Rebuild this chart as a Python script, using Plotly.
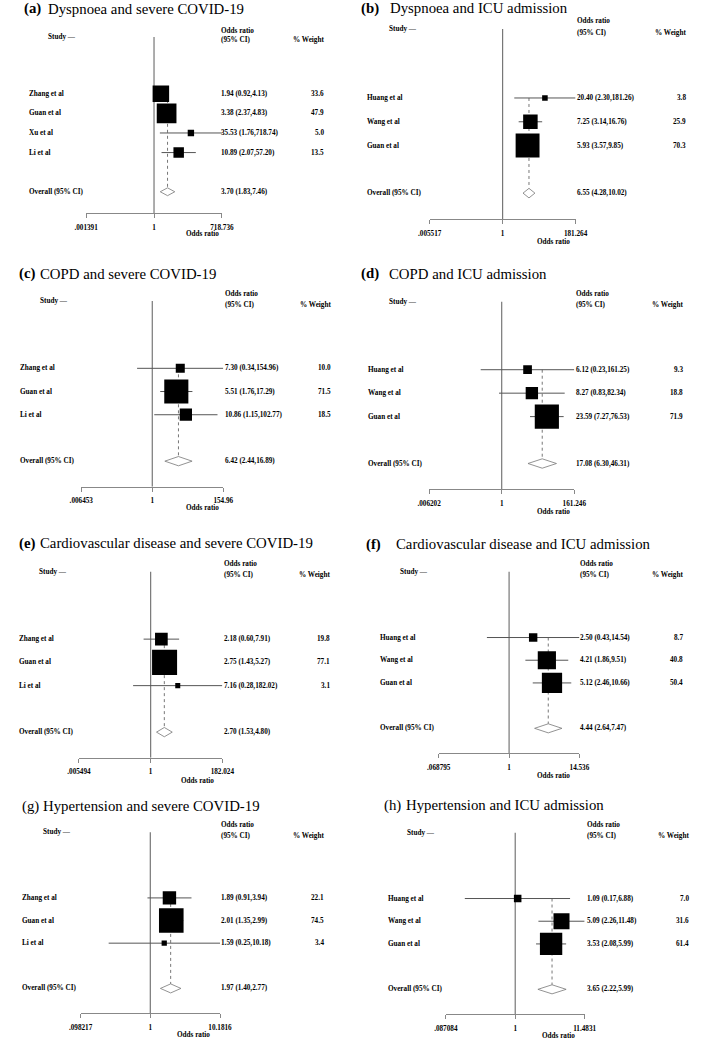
import math
import plotly.graph_objects as go

# ---------------- data ----------------
letters = ["(a)", "(b)", "(c)", "(d)", "(e)", "(f)", "(g)", "(h)"]
titles = [
    "Dyspnoea and severe COVID-19",
    "Dyspnoea and ICU admission",
    "COPD and severe COVID-19",
    "COPD and ICU admission",
    "Cardiovascular disease and severe COVID-19",
    "Cardiovascular disease and ICU admission",
    "Hypertension and severe COVID-19",
    "Hypertension and ICU admission",
]

studies_a = ["Zhang et al", "Guan et al", "Xu et al", "Li et al"]
or_a = [1.94, 3.38, 35.53, 10.89]
lo_a = [0.92, 2.37, 1.76, 2.07]
hi_a = [4.13, 4.83, 718.74, 57.20]
wt_a = [33.6, 47.9, 5.0, 13.5]
overall_a = [3.70, 1.83, 7.46]
axis_a = [0.001391, 718.736]
ticks_a = [".001391", "1", "718.736"]

studies_b = ["Huang et al", "Wang et al", "Guan et al"]
or_b = [20.40, 7.25, 5.93]
lo_b = [2.30, 3.14, 3.57]
hi_b = [181.26, 16.76, 9.85]
wt_b = [3.8, 25.9, 70.3]
overall_b = [6.55, 4.28, 10.02]
axis_b = [0.005517, 181.264]
ticks_b = [".005517", "1", "181.264"]

studies_c = ["Zhang et al", "Guan et al", "Li et al"]
or_c = [7.30, 5.51, 10.86]
lo_c = [0.34, 1.76, 1.15]
hi_c = [154.96, 17.29, 102.77]
wt_c = [10.0, 71.5, 18.5]
overall_c = [6.42, 2.44, 16.89]
axis_c = [0.006453, 154.96]
ticks_c = [".006453", "1", "154.96"]

studies_d = ["Huang et al", "Wang et al", "Guan et al"]
or_d = [6.12, 8.27, 23.59]
lo_d = [0.23, 0.83, 7.27]
hi_d = [161.25, 82.34, 76.53]
wt_d = [9.3, 18.8, 71.9]
overall_d = [17.08, 6.30, 46.31]
axis_d = [0.006202, 161.246]
ticks_d = [".006202", "1", "161.246"]

studies_e = ["Zhang et al", "Guan et al", "Li et al"]
or_e = [2.18, 2.75, 7.16]
lo_e = [0.60, 1.43, 0.28]
hi_e = [7.91, 5.27, 182.02]
wt_e = [19.8, 77.1, 3.1]
overall_e = [2.70, 1.53, 4.80]
axis_e = [0.005494, 182.024]
ticks_e = [".005494", "1", "182.024"]

studies_f = ["Huang et al", "Wang et al", "Guan et al"]
or_f = [2.50, 4.21, 5.12]
lo_f = [0.43, 1.86, 2.46]
hi_f = [14.54, 9.51, 10.66]
wt_f = [8.7, 40.8, 50.4]
overall_f = [4.44, 2.64, 7.47]
axis_f = [0.068795, 14.536]
ticks_f = [".068795", "1", "14.536"]

studies_g = ["Zhang et al", "Guan et al", "Li et al"]
or_g = [1.89, 2.01, 1.59]
lo_g = [0.91, 1.35, 0.25]
hi_g = [3.94, 2.99, 10.18]
wt_g = [22.1, 74.5, 3.4]
overall_g = [1.97, 1.40, 2.77]
axis_g = [0.098217, 10.1816]
ticks_g = [".098217", "1", "10.1816"]

studies_h = ["Huang et al", "Wang et al", "Guan et al"]
or_h = [1.09, 5.09, 3.53]
lo_h = [0.17, 2.26, 2.08]
hi_h = [6.88, 11.48, 5.99]
wt_h = [7.0, 31.6, 61.4]
overall_h = [3.65, 2.22, 5.99]
axis_h = [0.087084, 11.4831]
ticks_h = [".087084", "1", "11.4831"]

panels_data = [
    (studies_a, or_a, lo_a, hi_a, wt_a, overall_a, axis_a, ticks_a),
    (studies_b, or_b, lo_b, hi_b, wt_b, overall_b, axis_b, ticks_b),
    (studies_c, or_c, lo_c, hi_c, wt_c, overall_c, axis_c, ticks_c),
    (studies_d, or_d, lo_d, hi_d, wt_d, overall_d, axis_d, ticks_d),
    (studies_e, or_e, lo_e, hi_e, wt_e, overall_e, axis_e, ticks_e),
    (studies_f, or_f, lo_f, hi_f, wt_f, overall_f, axis_f, ticks_f),
    (studies_g, or_g, lo_g, hi_g, wt_g, overall_g, axis_g, ticks_g),
    (studies_h, or_h, lo_h, hi_h, wt_h, overall_h, axis_h, ticks_h),
]

# ---------------- layout geometry (pixels) ----------------
W, H = 709, 1045
geom = [
    dict(lx=12, tx=37.3, ty=9, bold=True, nx=17.3, ox=216.7, wx=322.7, sx=37.3, hy=37, ay=213.3, ax0=76.7, ax1=217.3, xl=(196.7, 234)),
    dict(lx=361.3, tx=391.3, ty=8.3, bold=True, nx=367.3, ox=585, wx=697.3, sx=390, hy=29, ay=219.3, ax0=432.3, ax1=583.3, xl=(560.7, 242.3)),
    dict(lx=7.3, tx=29.3, ty=274, bold=True, nx=8.3, ox=220, wx=330, sx=29.3, hy=301, ay=486.7, ax0=71.7, ax1=218.7, xl=(196.7, 508.3)),
    dict(lx=361.3, tx=390, ty=274, bold=True, nx=368, ox=584, wx=694.7, sx=390, hy=301.7, ay=489.3, ax0=431.7, ax1=582, xl=(560.7, 511.7)),
    dict(lx=7.3, tx=29, ty=543.3, bold=True, nx=7.3, ox=219.3, wx=328.7, sx=28.3, hy=571.7, ay=757.7, ax0=69.3, ax1=217.7, xl=(191.7, 780.5)),
    dict(lx=366.7, tx=397.3, ty=544, bold=True, nx=380.7, ox=588.3, wx=695, sx=401.3, hy=571.7, ay=753.3, ax0=441.7, ax1=587.3, xl=(560.7, 776)),
    dict(lx=10.7, tx=31.7, ty=806, bold=False, nx=10.7, ox=216.7, wx=322.7, sx=31.7, hy=832.3, ay=1013.3, ax0=71, ax1=215.3, xl=(188.3, 1035.3)),
    dict(lx=384.7, tx=407.3, ty=805, bold=False, nx=389, ox=594.7, wx=700.7, sx=409, hy=832.7, ay=1014.3, ax0=449, ax1=592.7, xl=(565.7, 1036)),
]

FONT = "Liberation Serif"
TXT = 7.2
BOX_K = 2.85
FIRST_ROW = 2.9
OVERALL_GAP = 2.0
AXIS_GAP = 1.1
DIA_H = 0.2
GREY = "#777777"
PAD = 2  # annotation inner padding (px)

fig = go.Figure()
annotations = []
layout_axes = {}

def fmt_ci(est, lo, hi):
    return f"{est:.2f} ({lo:.2f},{hi:.2f})"

def px_left(x):
    return (x - PAD) / W

def px_right(x):
    return (x + PAD) / W

for i, (data, g) in enumerate(zip(panels_data, geom)):
    studies, ors, los, his, wts, overall, axr, tlabels = data
    n = len(studies)
    k = i + 1
    xa = "x" if k == 1 else f"x{k}"
    ya = "y" if k == 1 else f"y{k}"
    rows = [FIRST_ROW + j for j in range(n)]
    ov_row = rows[-1] + OVERALL_GAP
    ax_row = ov_row + AXIS_GAP
    ppr = (g["ay"] - g["hy"]) / ax_row
    top_row = -1.0
    dom_top = 1 - (g["hy"] + top_row * ppr) / H
    dom_bot = 1 - g["ay"] / H

    layout_axes["xaxis" if k == 1 else f"xaxis{k}"] = dict(
        type="log",
        range=[math.log10(axr[0]), math.log10(axr[1])],
        domain=[g["ax0"] / W, g["ax1"] / W],
        anchor=ya,
        showline=True, linecolor="#888888", linewidth=1,
        ticks="outside", ticklen=4, tickcolor="#888888", tickwidth=1,
        tickvals=[axr[0], 1, axr[1]], ticktext=tlabels,
        tickfont=dict(family=FONT, size=TXT, color="black", weight="bold"),
        ticklabelstandoff=3,
        showgrid=False, zeroline=False, fixedrange=True,
    )
    layout_axes["yaxis" if k == 1 else f"yaxis{k}"] = dict(
        range=[ax_row, top_row],
        domain=[dom_bot, dom_top],
        anchor=xa,
        visible=False, showgrid=False, zeroline=False, fixedrange=True,
    )

    # null line at OR = 1
    fig.add_trace(go.Scatter(x=[1, 1], y=[0, ax_row], mode="lines",
                             line=dict(color=GREY, width=1.2),
                             xaxis=xa, yaxis=ya, hoverinfo="skip", showlegend=False))
    # dotted overall line
    fig.add_trace(go.Scatter(x=[overall[0], overall[0]], y=[rows[0], ov_row - DIA_H],
                             mode="lines", line=dict(color=GREY, width=1, dash="dot"),
                             xaxis=xa, yaxis=ya, hoverinfo="skip", showlegend=False))
    # CI lines
    for r, lo, hi in zip(rows, los, his):
        fig.add_trace(go.Scatter(x=[lo, hi], y=[r, r], mode="lines",
                                 line=dict(color="#555555", width=1),
                                 xaxis=xa, yaxis=ya, hoverinfo="skip", showlegend=False))
    # weight boxes
    fig.add_trace(go.Scatter(x=ors, y=rows, mode="markers",
                             marker=dict(symbol="square", color="black", opacity=1,
                                         size=[BOX_K * math.sqrt(w) for w in wts],
                                         line=dict(width=0)),
                             xaxis=xa, yaxis=ya, hoverinfo="skip", showlegend=False))
    # overall diamond
    est, olo, ohi = overall
    fig.add_trace(go.Scatter(x=[olo, est, ohi, est, olo],
                             y=[ov_row, ov_row - DIA_H, ov_row, ov_row + DIA_H, ov_row],
                             mode="lines", fill="toself", fillcolor="white",
                             line=dict(color=GREY, width=0.8),
                             xaxis=xa, yaxis=ya, hoverinfo="skip", showlegend=False))

    tf = dict(family=FONT, size=TXT, color="black")
    # title
    annotations.append(dict(xref="paper", yref="paper", x=px_left(g["lx"]), y=1 - g["ty"] / H,
                            text=(f"<b>{letters[i]}</b>" if g["bold"] else letters[i]),
                            showarrow=False, xanchor="left", yanchor="middle",
                            font=dict(family=FONT, size=14.8, color="black")))
    annotations.append(dict(xref="paper", yref="paper", x=px_left(g["tx"]), y=1 - g["ty"] / H,
                            text=titles[i], showarrow=False, xanchor="left", yanchor="middle",
                            font=dict(family=FONT, size=14.8, color="black")))
    # headers
    annotations.append(dict(xref="paper", yref=ya, x=px_left(g["sx"]), y=0,
                            text="<b>Study</b> \u2014", showarrow=False,
                            xanchor="left", yanchor="middle", font=tf))
    annotations.append(dict(xref="paper", yref=ya, x=px_left(g["ox"]), y=-0.32,
                            text="<b>Odds ratio</b>", showarrow=False,
                            xanchor="left", yanchor="middle", font=tf))
    annotations.append(dict(xref="paper", yref=ya, x=px_left(g["ox"]), y=0.16,
                            text="<b>(95% CI)</b>", showarrow=False,
                            xanchor="left", yanchor="middle", font=tf))
    annotations.append(dict(xref="paper", yref=ya, x=px_right(g["wx"]), y=0.16,
                            text="<b>% Weight</b>", showarrow=False,
                            xanchor="right", yanchor="middle", font=tf))
    # study rows
    for r, s, e, lo, hi, w in zip(rows, studies, ors, los, his, wts):
        annotations.append(dict(xref="paper", yref=ya, x=px_left(g["nx"]), y=r,
                                text=f"<b>{s}</b>", showarrow=False,
                                xanchor="left", yanchor="middle", font=tf))
        annotations.append(dict(xref="paper", yref=ya, x=px_left(g["ox"]), y=r,
                                text=f"<b>{fmt_ci(e, lo, hi)}</b>", showarrow=False,
                                xanchor="left", yanchor="middle", font=tf))
        annotations.append(dict(xref="paper", yref=ya, x=px_right(g["wx"]), y=r,
                                text=f"<b>{w:.1f}</b>", showarrow=False,
                                xanchor="right", yanchor="middle", font=tf))
    # overall row
    annotations.append(dict(xref="paper", yref=ya, x=px_left(g["nx"]), y=ov_row,
                            text="<b>Overall (95% CI)</b>", showarrow=False,
                            xanchor="left", yanchor="middle", font=tf))
    annotations.append(dict(xref="paper", yref=ya, x=px_left(g["ox"]), y=ov_row,
                            text=f"<b>{fmt_ci(est, olo, ohi)}</b>", showarrow=False,
                            xanchor="left", yanchor="middle", font=tf))
    # x-axis title
    annotations.append(dict(xref="paper", yref="paper", x=g["xl"][0] / W, y=1 - g["xl"][1] / H,
                            text="<b>Odds ratio</b>", showarrow=False,
                            xanchor="center", yanchor="middle", font=tf))

fig.update_layout(
    width=W, height=H,
    margin=dict(l=0, r=0, t=0, b=0),
    paper_bgcolor="white", plot_bgcolor="white",
    showlegend=False,
    annotations=annotations,
    font=dict(family=FONT, color="black"),
    **layout_axes,
)

fig.write_html(
    "out.html",
    config={"displayModeBar": False, "staticPlot": True},
    post_script="document.body.style.margin='0';document.body.style.overflow='hidden';",
)
